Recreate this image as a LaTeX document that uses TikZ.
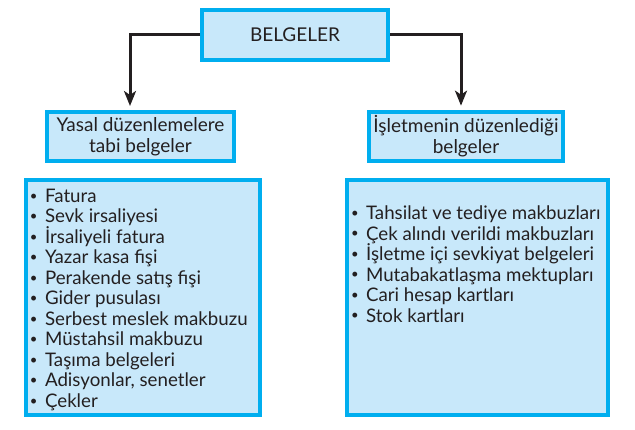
\documentclass[tikz,border=0pt]{standalone}
\usepackage{fontspec}
\setmainfont{Lato}
\usepackage{xcolor}
\usetikzlibrary{arrows.meta}
\definecolor{acikmavi}{HTML}{C8E8FA}
\definecolor{mavi}{HTML}{00AEEF}
\definecolor{yazi}{HTML}{231F20}
\newcommand{\madde}{\raisebox{0.25ex}{\scalebox{0.7}{•}}\hspace{0.4em}}

\begin{document}
\begin{tikzpicture}[x=1pt,y=-1pt,every node/.style={shape=rectangle,align=center,text=yazi},
    kutu/.style={draw=mavi,fill=acikmavi,line width=4pt,inner sep=4pt},
    ok/.style={draw=yazi,line width=3pt,-{Stealth[length=15pt,width=12pt,inset=4pt]},shorten >=4pt}]
    \useasboundingbox (0,0) rectangle (635,430);
    \node[kutu,minimum width=186pt,minimum height=50pt,font=\fontsize{19}{23}\selectfont] (belgeler) at (295,35) {BELGELER};
    \node[kutu,minimum width=187pt,minimum height=49pt,font=\fontsize{19}{21}\selectfont] (yasal) at (140.5,136.5) {Yasal düzenlemelere\\tabi belgeler};
    \node[kutu,minimum width=188pt,minimum height=49pt,font=\fontsize{19}{21}\selectfont] (isletme) at (466,136.5) {İşletmenin düzenlediği\\belgeler};
    \node[kutu] (yasalliste) at (143,297.5) {\begin{minipage}[c][227pt][t]{226pt}\raggedright\fontsize{18.7}{20.5}\selectfont
        \vspace*{5pt}
        \madde Fatura\\
        \madde Sevk irsaliyesi\\
        \madde İrsaliyeli fatura\\
        \madde Yazar kasa fişi\\
        \madde Perakende satış fişi\\
        \madde Gider pusulası\\
        \madde Serbest meslek makbuzu\\
        \madde Müstahsil makbuzu\\
        \madde Taşıma belgeleri\\
        \madde Adisyonlar, senetler\\
        \madde Çekler
    \end{minipage}};
    \node[kutu] (isletmeliste) at (477.5,297.5) {\begin{minipage}[c][227pt][t]{253pt}\raggedright\fontsize{18.7}{20.5}\selectfont
        \vspace*{22pt}
        \madde Tahsilat ve tediye makbuzları\\
        \madde Çek alındı verildi makbuzları\\
        \madde İşletme içi sevkiyat belgeleri\\
        \madde Mutabakatlaşma mektupları\\
        \madde Cari hesap kartları\\
        \madde Stok kartları
    \end{minipage}};
    \draw[ok] (belgeler.west) -| ([xshift=-10.5pt]yasal.north);
    \draw[ok] (belgeler.east) -| ([xshift=-5pt]isletme.north);
\end{tikzpicture}
\end{document}
